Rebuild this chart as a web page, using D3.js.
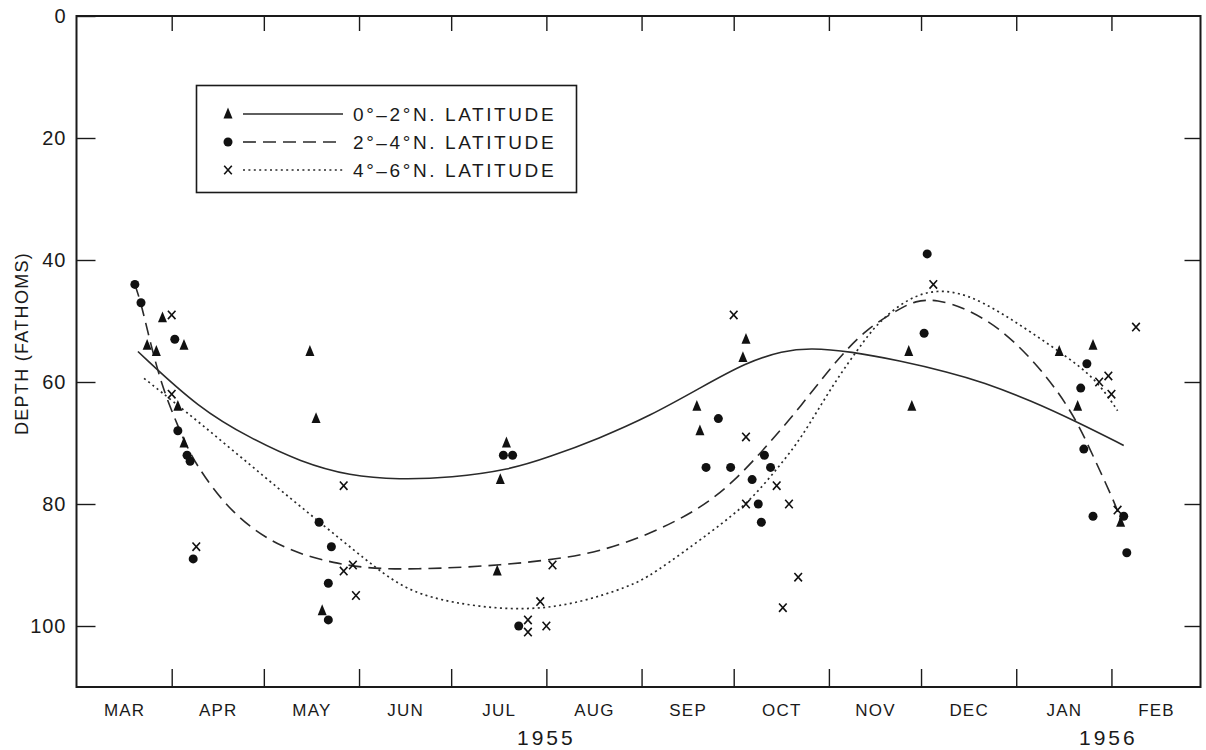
<!DOCTYPE html>
<html><head><meta charset="utf-8">
<script src="https://cdn.jsdelivr.net/npm/d3@7"></script>
<style>
body{margin:0;background:#fff}
svg{display:block}
text{font-family:"Liberation Sans",Arial,sans-serif;fill:#1a1a1a}
</style>
</head><body>
<svg id="chart" width="1206" height="750"></svg>
<script>
// ---------------- data ----------------
const monthLabels = ["MAR","APR","MAY","JUN","JUL","AUG","SEP","OCT","NOV","DEC","JAN","FEB"];
const yearLabels = ["1955","1956"];
const yearAnchors = ["1955-08-01","1956-01-31"];
const yTicks = [0,20,40,60,80,100];
const legendLabels = ["0°–2°N. LATITUDE","2°–4°N. LATITUDE","4°–6°N. LATITUDE"];

// 0°-2°N (triangles): [date, depth in fathoms]
const lat0to2 = [
  ["1955-03-24",54],["1955-03-27",55],["1955-03-29",49.5],["1955-04-05",54],["1955-04-03",64],["1955-04-05",70],
  ["1955-05-16",55],["1955-05-18",66],["1955-05-20",97.5],
  ["1955-07-19",70],["1955-07-17",76],["1955-07-16",91],
  ["1955-10-05",53],["1955-10-04",56],["1955-09-19",64],["1955-09-20",68],
  ["1955-11-27",55],["1955-11-28",64],
  ["1956-01-15",55],["1956-01-26",54],["1956-01-21",64],["1956-02-04",83]
];
// 2°-4°N (dots)
const lat2to4 = [
  ["1955-03-20",44],["1955-03-22",47],["1955-04-02",53],["1955-04-03",68],["1955-04-06",72],["1955-04-07",73],["1955-04-08",89],
  ["1955-05-19",83],["1955-05-23",87],["1955-05-22",93],["1955-05-22",99],
  ["1955-07-18",72],["1955-07-21",72],["1955-07-23",100],
  ["1955-09-26",66],["1955-10-11",72],["1955-09-22",74],["1955-09-30",74],["1955-10-13",74],["1955-10-07",76],["1955-10-09",80],["1955-10-10",83],
  ["1955-12-02",52],["1955-12-03",39],
  ["1956-01-24",57],["1956-01-22",61],["1956-01-23",71],["1956-01-26",82],["1956-02-05",82],["1956-02-06",88]
];
// 4°-6°N (crosses)
const lat4to6 = [
  ["1955-04-01",49],["1955-04-01",62],["1955-04-09",87],
  ["1955-05-27",77],["1955-05-30",90],["1955-05-27",91],["1955-05-31",95],
  ["1955-08-03",90],["1955-07-30",96],["1955-07-26",99],["1955-07-26",101],["1955-08-01",100],
  ["1955-10-01",49],["1955-10-05",69],["1955-10-15",77],["1955-10-05",80],["1955-10-19",80],["1955-10-22",92],["1955-10-17",97],
  ["1955-12-05",44],
  ["1956-01-31",59],["1956-01-28",60],["1956-02-01",62],["1956-02-09",51],["1956-02-03",81]
];

// fitted curves
const curve0to2 = [
  ["1955-03-21",55],["1955-04-10",64.4],["1955-04-27",69.3],["1955-05-13",73.1],["1955-05-29",75.4],["1955-06-14",76],
  ["1955-07-01",75.7],["1955-07-20",74.4],["1955-08-02",72.3],["1955-08-18",69.3],["1955-09-04",65.5],["1955-09-20",61],
  ["1955-10-05",56.8],["1955-10-17",54.9],["1955-10-26",54.4],["1955-11-08",55],["1955-11-24",56.5],["1955-12-10",58.4],
  ["1955-12-21",60],["1956-01-06",63.1],["1956-01-21",66.6],["1956-02-05",70.4]
];
const curve2to4 = [
  ["1955-03-20",44],["1955-03-22",47],["1955-03-25",53.5],["1955-03-29",61],["1955-04-03",67.2],["1955-04-08",73.1],
  ["1955-04-21",82],["1955-05-07",87.4],["1955-05-24",89.8],["1955-06-08",90.8],["1955-07-01",90.5],["1955-07-17",90],
  ["1955-08-02",89.2],["1955-08-18",87.9],["1955-09-04",84.9],["1955-09-20",80.8],["1955-10-01",76.4],["1955-10-12",70.4],
  ["1955-10-23",63.9],["1955-11-02",57.3],["1955-11-13",51.3],["1955-11-24",48],["1955-11-29",46.7],["1955-12-06",46.4],
  ["1955-12-16",48],["1955-12-27",51.3],["1956-01-06",56.2],["1956-01-14",61.1],["1956-01-21",66.6],["1956-01-27",73.2],
  ["1956-02-03",80.8],["1956-02-04",83]
];
const curve4to6 = [
  ["1955-03-23",59.4],["1955-04-10",66.6],["1955-05-02",75.9],["1955-05-18",82.5],["1955-06-04",89.5],["1955-06-14",93.3],
  ["1955-06-24",95.4],["1955-07-10",96.9],["1955-07-27",97.4],["1955-08-12",96.2],["1955-08-28",93.5],["1955-09-04",91.8],
  ["1955-09-25",84.1],["1955-10-06",79.7],["1955-10-15",74.3],["1955-10-23",69.3],["1955-11-02",60.6],["1955-11-13",52.8],
  ["1955-11-18",49.8],["1955-11-27",46.2],["1955-12-06",44.8],["1955-12-16",45.6],["1955-12-27",48.6],["1956-01-06",51.9],
  ["1956-01-17",55.7],["1956-01-27",59.5],["1956-02-03",64.7]
];

// ---------------- chart ----------------
const parse = d3.timeParse("%Y-%m-%d");
const svg = d3.select("#chart");
const L = 76.5, R = 1200.5, T = 16, B = 687;
const x = d3.scaleTime().domain([parse("1955-03-01"), parse("1956-03-01")]).range([L, R]);
const y = d3.scaleLinear().domain([0, 110]).range([T, B]);
const ink = "#1a1a1a";
const FONT = '"Liberation Sans",Arial,sans-serif';

const monthStarts = d3.timeMonth.range(parse("1955-04-01"), parse("1956-03-01"));
const allMonths = d3.timeMonth.range(parse("1955-03-01"), parse("1956-03-01"));
const midMonths = allMonths.map(m => new Date((+m + +d3.timeMonth.offset(m,1))/2));

function styleAxis(g){
  g.select(".domain").remove();
  g.selectAll(".tick line").attr("stroke", ink).attr("stroke-width", 1.4);
}

// ticks
svg.append("g").attr("transform",`translate(0,${B})`)
  .call(d3.axisBottom(x).tickValues(monthStarts).tickSize(-18).tickFormat(""))
  .call(styleAxis);
svg.append("g").attr("transform",`translate(0,${T})`)
  .call(d3.axisTop(x).tickValues(monthStarts).tickSize(-15).tickFormat(""))
  .call(styleAxis);
svg.append("g").attr("transform",`translate(${R},0)`)
  .call(d3.axisRight(y).tickValues(yTicks.filter(v=>v>0)).tickSize(-16).tickFormat(""))
  .call(styleAxis);
const yAx = svg.append("g").attr("transform",`translate(${L},0)`)
  .call(d3.axisLeft(y).tickValues(yTicks).tickSize(-19).tickPadding(10))
  .call(styleAxis);
yAx.selectAll(".tick text").attr("font-size", 20).attr("font-family", FONT)
  .attr("fill", ink).attr("letter-spacing", 1);

// month labels
const mAx = svg.append("g").attr("transform",`translate(0,${B})`)
  .call(d3.axisBottom(x).tickValues(midMonths).tickSize(0).tickPadding(17).tickFormat((d,i)=>monthLabels[i]));
mAx.select(".domain").remove();
mAx.selectAll(".tick text").attr("font-size", 17).attr("font-family", FONT)
  .attr("fill", ink).attr("letter-spacing", 1.2);

// year labels
svg.append("g").selectAll("text").data(yearLabels).join("text")
  .attr("x", (d,i)=>x(parse(yearAnchors[i])))
  .attr("y", 745)
  .attr("text-anchor","middle").attr("font-size", 21).attr("letter-spacing", 3)
  .text(d=>d);

// y title
svg.append("text")
  .attr("transform", `translate(28,${(T+B)/2 - 8}) rotate(-90)`)
  .attr("text-anchor","middle").attr("font-size", 18).attr("letter-spacing", 1.3)
  .text("DEPTH (FATHOMS)");

// frame
svg.append("rect").attr("x", L).attr("y", T).attr("width", R-L).attr("height", B-T)
  .attr("fill","none").attr("stroke", ink).attr("stroke-width", 2);

// curves
const line = d3.line().x(d=>x(parse(d[0]))).y(d=>y(d[1])).curve(d3.curveBasis);
const lineStyles = [
  {data: curve0to2, dash: null, w: 1.6},
  {data: curve2to4, dash: "13,7", w: 1.6},
  {data: curve4to6, dash: "2,3.4", w: 1.7}
];
svg.append("g").selectAll("path").data(lineStyles).join("path")
  .attr("d", d=>line(d.data)).attr("fill","none").attr("stroke","#2a2a2a")
  .attr("stroke-width", d=>d.w).attr("stroke-dasharray", d=>d.dash);

// marker shapes
const triPath = "M0,-6.4L4.5,4.4L-4.5,4.4Z";
function drawTri(g, cx, cy){ g.append("path").attr("d", triPath).attr("transform",`translate(${cx},${cy})`).attr("fill","#111"); }
function drawDot(g, cx, cy){ g.append("circle").attr("cx",cx).attr("cy",cy).attr("r",4.5).attr("fill","#111"); }
function drawCross(g, cx, cy){
  g.append("path").attr("d","M-3.8,-4.2L3.8,4.2M3.8,-4.2L-3.8,4.2")
    .attr("transform",`translate(${cx},${cy})`).attr("stroke","#111").attr("stroke-width",1.6).attr("fill","none");
}
const gm = svg.append("g");
lat0to2.forEach(d=>drawTri(gm, x(parse(d[0])), y(d[1])));
lat2to4.forEach(d=>drawDot(gm, x(parse(d[0])), y(d[1])));
lat4to6.forEach(d=>drawCross(gm, x(parse(d[0])), y(d[1])));

// legend
const lg = svg.append("g");
lg.append("rect").attr("x",196.5).attr("y",85.5).attr("width",380).attr("height",107)
  .attr("fill","#fff").attr("stroke",ink).attr("stroke-width",1.6);
const rowY = [114, 142, 170];
const markers = [drawTri, drawDot, drawCross];
rowY.forEach((ry,i)=>{
  markers[i](lg, 228, ry);
  lg.append("line").attr("x1",243).attr("x2",343).attr("y1",ry).attr("y2",ry)
    .attr("stroke","#2a2a2a").attr("stroke-width", lineStyles[i].w).attr("stroke-dasharray", lineStyles[i].dash);
  lg.append("text").attr("x",353).attr("y",ry+7).attr("font-size",19).attr("letter-spacing",2.6)
    .text(legendLabels[i]);
});
</script>
</body></html>
